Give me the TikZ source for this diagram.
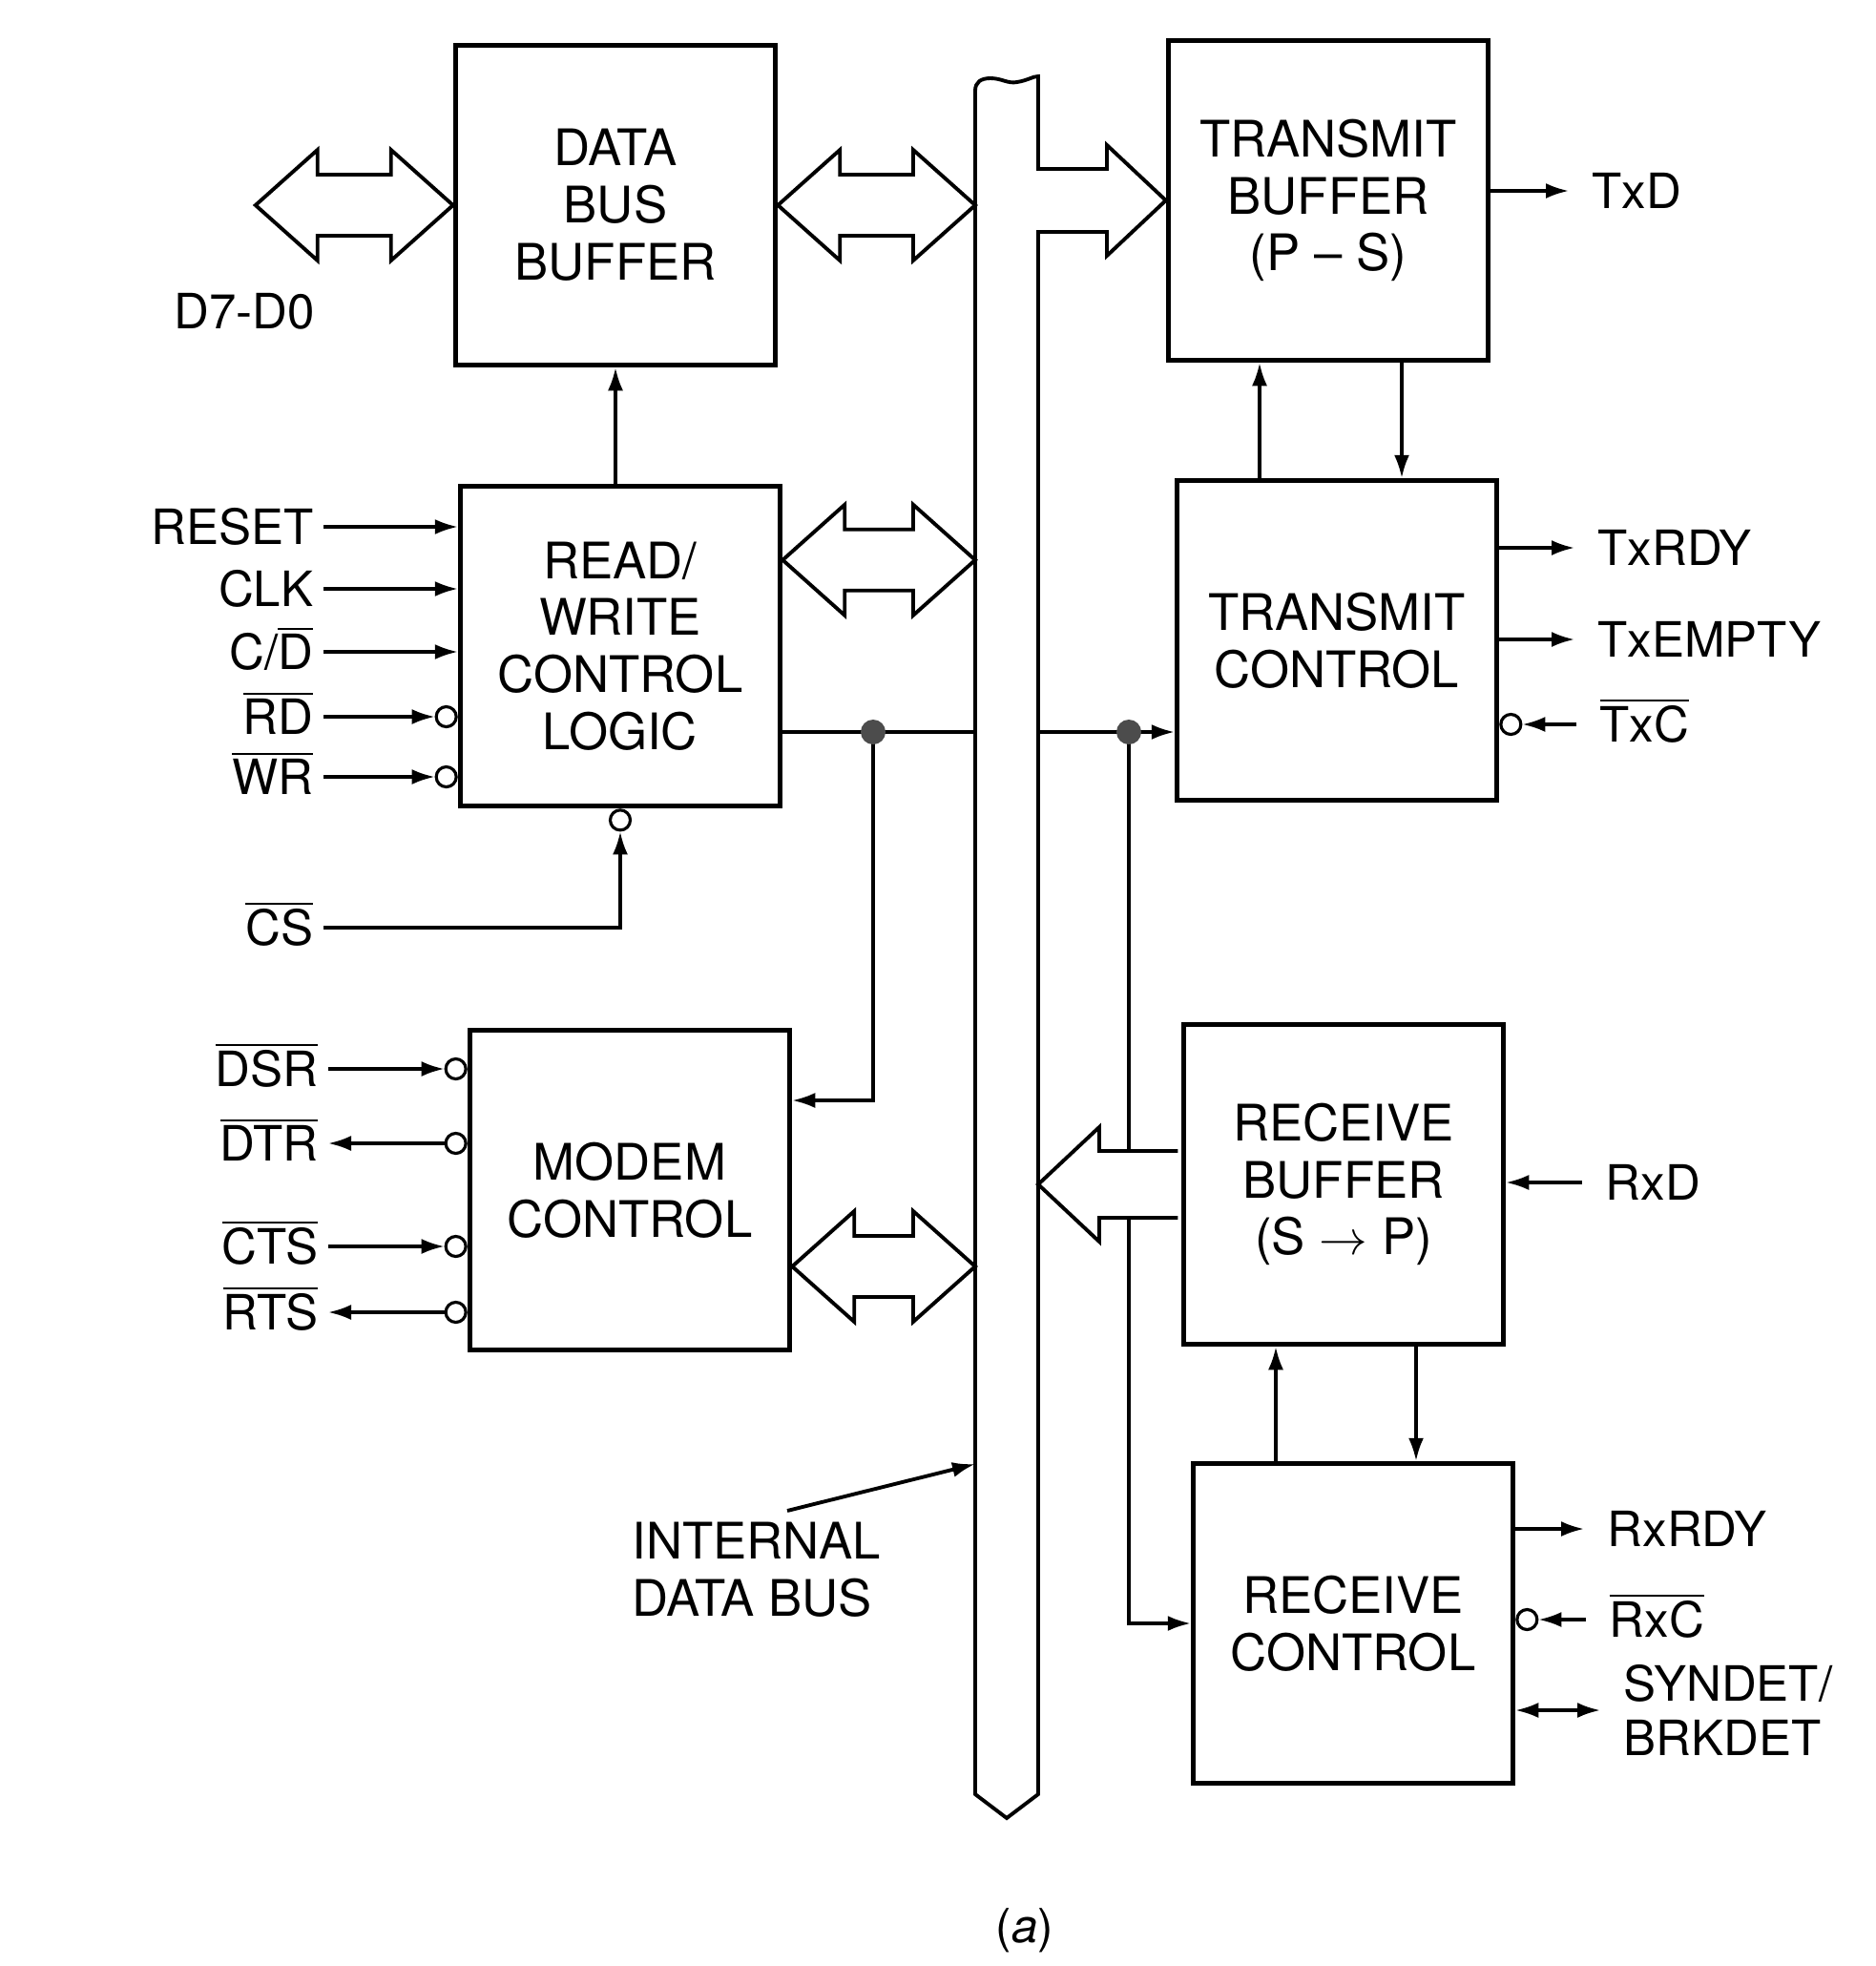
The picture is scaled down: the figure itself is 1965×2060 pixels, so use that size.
\documentclass[tikz,border=0pt]{standalone}
\usepackage{fontspec}
\setmainfont{TeX Gyre Heros}
\usetikzlibrary{arrows.meta,positioning,calc}
\newcommand{\actlow}[1]{\ensuremath{\overline{\mbox{#1}}}}

\begin{document}
\begin{tikzpicture}[
  >={Latex[length=2.4mm,width=1.6mm]}, x=0.01cm, y=-0.01cm,
  block/.style={draw,line width=1.5pt,minimum width=3.35cm,minimum height=3.35cm,
    align=center,font=\fontsize{15}{17}\selectfont},
  sig/.style={line width=0.9pt},
  lab/.style={font=\fontsize{14.5}{16}\selectfont,inner ysep=0pt},
  pinl/.style={lab,anchor=east,inner xsep=1mm,text height=0.36cm,text depth=0pt},
  pinr/.style={lab,anchor=west,inner xsep=2.4mm,text height=0.36cm,text depth=0pt},
  bub/.style={circle,draw,line width=0.9pt,fill=white,minimum size=0.21cm,inner sep=0pt},
  dot/.style={circle,fill=black!70,minimum size=0.26cm,inner sep=0pt},
  busline/.style={line width=1.1pt,fill=white},
  fatboth/.style={draw,fill=white,line width=1.1pt,
    to path={let \p1=(\tikztostart),\p2=(\tikztotarget) in
      -- (\x1+0.65cm,\y1+0.58cm) -- (\x1+0.65cm,\y1+0.32cm) -- (\x2-0.65cm,\y1+0.32cm)
      -- (\x2-0.65cm,\y1+0.58cm) -- (\x2,\y1) -- (\x2-0.65cm,\y1-0.58cm)
      -- (\x2-0.65cm,\y1-0.32cm) -- (\x1+0.65cm,\y1-0.32cm) -- (\x1+0.65cm,\y1-0.58cm)
      -- cycle}},
  fatleft/.style={draw,fill=white,line width=1.1pt,
    to path={let \p1=(\tikztostart),\p2=(\tikztotarget) in
      (\x1-1pt,\y1+0.35cm) -- (\x2+0.64cm,\y1+0.35cm) -- (\x2+0.64cm,\y1+0.6cm)
      -- (\x2,\y1) -- (\x2+0.64cm,\y1-0.6cm) -- (\x2+0.64cm,\y1-0.35cm)
      -- (\x1-1pt,\y1-0.35cm)}}]
\useasboundingbox (0,0) rectangle (1965,2060);

% blocks
\node[block] (dbb) at (645,215) {DATA\\BUS\\BUFFER};
\node[block] (rw) at (650,677) {READ/\\WRITE\\CONTROL\\LOGIC};
\node[block] (mc) at (660,1247) {MODEM\\CONTROL};
\node[block] (tb) at (1392,210) {TRANSMIT\\BUFFER\\(P -- S)};
\node[block] (tc) at (1401,671) {TRANSMIT\\CONTROL};
\node[block] (rb) at (1408,1241) {RECEIVE\\BUFFER\\(S $\rightarrow$ P)};
\node[block] (rc) at (1418,1701) {RECEIVE\\CONTROL};

% internal bus, with the branch into the transmit buffer
\coordinate (busL) at (1022,0);
\coordinate (busR) at (1088,0);
\draw[busline] (1022,95) .. controls (1022,86) and (1028,82) .. (1038,82)
  .. controls (1050,82) and (1056,88) .. (1066,86)
  .. controls (1078,84) and (1082,80) .. (1088,80)
  -- (1088,177) -- (1160,177) -- (1160,152) -- (tb.west) -- (1160,268) -- (1160,243)
  -- (1088,243) -- (1088,1880) -- (1055,1905) -- (1022,1880) -- cycle;

% control lines across the bus
\coordinate (jl) at (915,767);
\coordinate (jr) at (1183,767);
\draw[sig] (rw.east |- jl) -- (busL |- jl);
\draw[sig] (busR |- jr) -- (jr);
\draw[sig,->] (jr) -- (tc.west |- jr);
\draw[sig,->] (jl) |- ($(mc.east)+(0,-94)$);
\draw[sig,->] (jr) |- (rc.west);
\node[dot] (dotl) at (jl) {};
\node[dot] (dotr) at (jr) {};

% wide data paths
\coordinate (dext) at ($(dbb.west)+(-207,0)$);
\coordinate (rwbus) at ($(rw.north east)+(0,80)$);
\coordinate (mcbus) at ($(mc.east)+(0,80)$);
\draw[fatboth] (dext) to (dbb.west);
\draw[fatboth] (dbb.east) to (busL |- dbb.east);
\draw[fatboth] (rwbus) to (busL |- rwbus);
\draw[fatboth] (mcbus) to (busL |- mcbus);
\draw[fatleft] (rb.west) to (busR |- rb.west);
\node[lab] (dlab) at (256,326) {D7-D0};

% block to block
\draw[sig,->] (rw.north -| dbb.south) -- (dbb.south);
\coordinate (tup) at ($(tb.south)+(-72,0)$);
\coordinate (tdn) at ($(tb.south)+(77,0)$);
\draw[sig,->] (tup |- tc.north) -- (tup);
\draw[sig,->] (tdn) -- (tdn |- tc.north);
\coordinate (rup) at ($(rb.south)+(-71,0)$);
\coordinate (rdn) at ($(rb.south)+(76,0)$);
\draw[sig,->] (rup |- rc.north) -- (rup);
\draw[sig,->] (rdn) -- (rdn |- rc.north);

% read/write control inputs
\foreach \name/\txt/\yy in {rst/RESET/552, clk/CLK/617, cd/{C/\actlow{D}}/683}{
  \node[pinl] (\name) at (339,\yy) {\txt};
  \draw[sig,->] (\name) -- (rw.west |- \name);
}
\foreach \name/\txt/\yy in {rd/RD/751, wr/WR/814}{
  \node[pinl] (\name) at (339,\yy) {\actlow{\txt}};
  \node[bub,anchor=east] (\name b) at (rw.west |- \name) {};
  \draw[sig,->] (\name) -- (\name b);
}
\node[pinl] (cs) at (339,972) {\actlow{CS}};
\node[bub,anchor=north] (csb) at (rw.south) {};
\draw[sig,->] (cs) -| (csb);

% modem lines
\foreach \name/\txt/\yy in {dsr/DSR/1120, cts/CTS/1306}{
  \node[pinl] (\name) at (344,\yy) {\actlow{\txt}};
  \node[bub,anchor=east] (\name b) at (mc.west |- \name) {};
  \draw[sig,->] (\name) -- (\name b);
}
\foreach \name/\txt/\yy in {dtr/DTR/1198, rts/RTS/1375}{
  \node[pinl] (\name) at (344,\yy) {\actlow{\txt}};
  \node[bub,anchor=east] (\name b) at (mc.west |- \name) {};
  \draw[sig,->] (\name b) -- (\name);
}

% transmitter pins
\node[pinr] (txd) at (1644,200) {TxD};
\draw[sig,->] (tb.east |- txd) -- (txd);
\foreach \name/\txt/\yy in {txrdy/TxRDY/574, txe/TxEMPTY/670}{
  \node[pinr] (\name) at (1650,\yy) {\txt};
  \draw[sig,->] (tc.east |- \name) -- (\name);
}
\node[pinr] (txc) at (1652,759) {\actlow{TxC}};
\node[bub,anchor=west] (txcb) at (tc.east |- txc) {};
\draw[sig,->] (txc) -- (txcb);

% receiver pins
\node[pinr] (rxd) at (1658,1239) {RxD};
\draw[sig,->] (rxd) -- (rb.east |- rxd);
\node[pinr] (rxrdy) at (1660,1602) {RxRDY};
\draw[sig,->] (rc.east |- rxrdy) -- (rxrdy);
\node[pinr] (rxc) at (1662,1697) {\actlow{RxC}};
\node[bub,anchor=west] (rxcb) at (rc.east |- rxc) {};
\draw[sig,->] (rxc) -- (rxcb);
\node[lab,anchor=west,inner xsep=2.4mm,align=left] (syn) at (1677,1792) {SYNDET/\\BRKDET};
\draw[sig,<->] (rc.east |- syn) -- (syn);

% bus label
\node[anchor=west,align=left,font=\fontsize{15}{17}\selectfont] (ibus) at (650,1645)
  {INTERNAL\\DATA BUS};
\coordinate (busptr) at (1022,1534);
\draw[sig,->,line width=1.1pt] ($(ibus.north west)+(175,0)$) -- (busptr);
\node[font=\fontsize{14}{16}\selectfont] (cap) at (1074,2023) {(\textit{a})};
\end{tikzpicture}
\end{document}
